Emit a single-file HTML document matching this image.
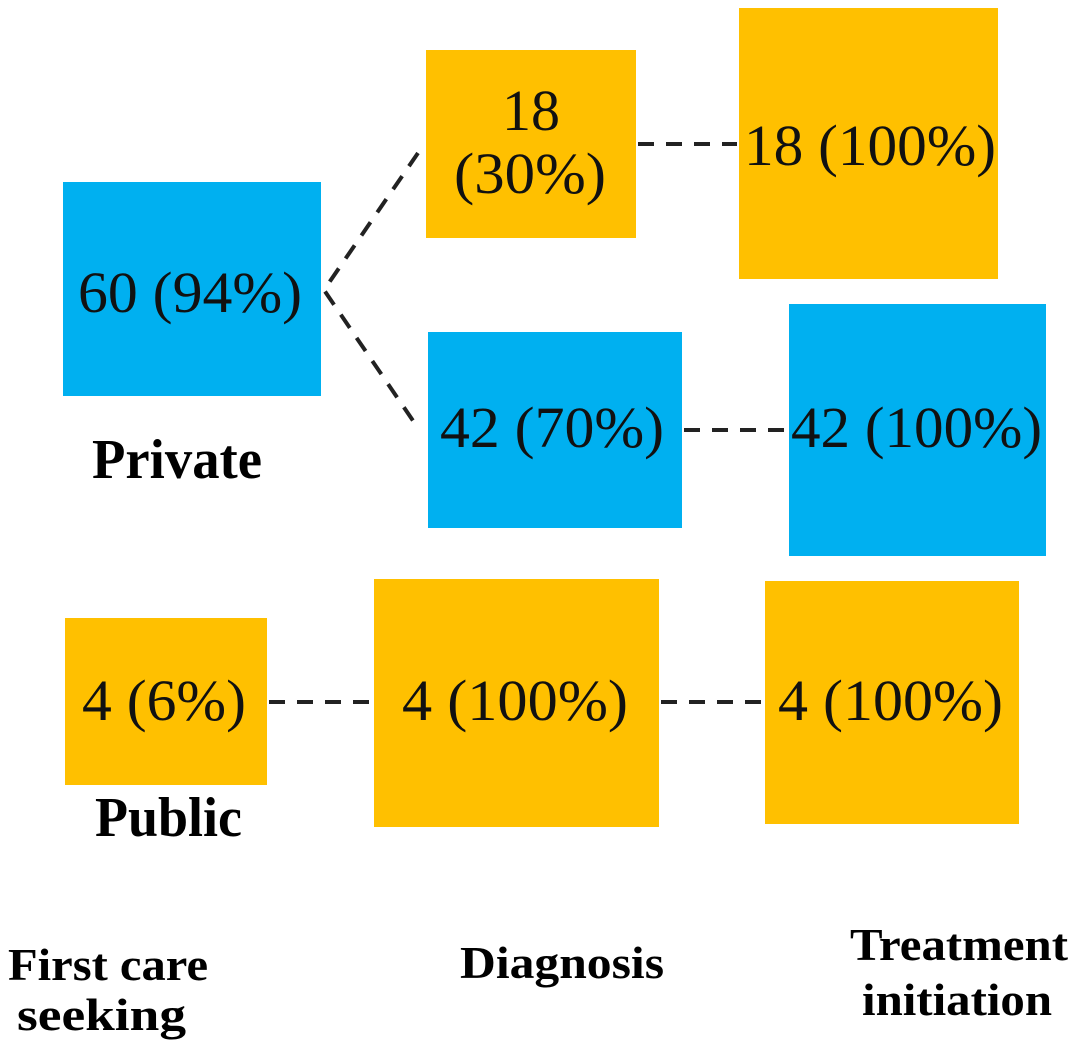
<!DOCTYPE html>
<html><head><meta charset="utf-8"><style>html,body{margin:0;padding:0;background:#fff}svg{display:block}
.t{font-family:"Liberation Serif","Times New Roman",serif;font-size:58px;fill:#111}
.b{font-family:"Liberation Serif","Times New Roman",serif;font-weight:bold;fill:#000}
</style></head>
<body>
<svg width="1080" height="1054" viewBox="0 0 1080 1054" xmlns="http://www.w3.org/2000/svg">
<g fill="#FFC000">
<rect x="426" y="50" width="210" height="188"/>
<rect x="739" y="8" width="259" height="271"/>
<rect x="65" y="618" width="202" height="167"/>
<rect x="374" y="579" width="285" height="248"/>
<rect x="765" y="581" width="254" height="243"/>
</g>
<g fill="#00B0F0">
<rect x="63" y="182" width="258" height="214"/>
<rect x="428" y="332" width="254" height="196"/>
<rect x="789" y="304" width="257" height="252"/>
</g>
<g stroke="#222" stroke-width="4" stroke-dasharray="16 12" fill="none">
<line x1="638" y1="144" x2="737" y2="144"/>
<line x1="684" y1="430" x2="787" y2="430"/>
<line x1="269" y1="702" x2="372" y2="702"/>
<line x1="661" y1="702" x2="763" y2="702"/>
<polyline points="418,153 324,290 418,428"/>
</g>
<g class="t">
<text x="78" y="312" textLength="224" lengthAdjust="spacingAndGlyphs">60 (94%)</text>
<text x="531" y="130" text-anchor="middle">18</text>
<text x="454" y="193" textLength="152" lengthAdjust="spacingAndGlyphs">(30%)</text>
<text x="744" y="165" textLength="252" lengthAdjust="spacingAndGlyphs">18 (100%)</text>
<text x="440" y="447" textLength="224" lengthAdjust="spacingAndGlyphs">42 (70%)</text>
<text x="791" y="447" textLength="251" lengthAdjust="spacingAndGlyphs">42 (100%)</text>
<text x="82" y="720" textLength="164" lengthAdjust="spacingAndGlyphs">4 (6%)</text>
<text x="402" y="720" textLength="226" lengthAdjust="spacingAndGlyphs">4 (100%)</text>
<text x="778" y="720" textLength="225" lengthAdjust="spacingAndGlyphs">4 (100%)</text>
</g>
<g class="b">
<text x="92" y="478" font-size="56" textLength="170" lengthAdjust="spacingAndGlyphs">Private</text>
<text x="95" y="836" font-size="56" textLength="147" lengthAdjust="spacingAndGlyphs">Public</text>
<text x="8" y="980" font-size="46" textLength="200" lengthAdjust="spacingAndGlyphs">First care</text>
<text x="17" y="1030" font-size="46" textLength="169" lengthAdjust="spacingAndGlyphs">seeking</text>
<text x="460" y="978" font-size="46" textLength="204" lengthAdjust="spacingAndGlyphs">Diagnosis</text>
<text x="850" y="960" font-size="46" textLength="218" lengthAdjust="spacingAndGlyphs">Treatment</text>
<text x="862" y="1015" font-size="46" textLength="190" lengthAdjust="spacingAndGlyphs">initiation</text>
</g>
</svg>
</body></html>
